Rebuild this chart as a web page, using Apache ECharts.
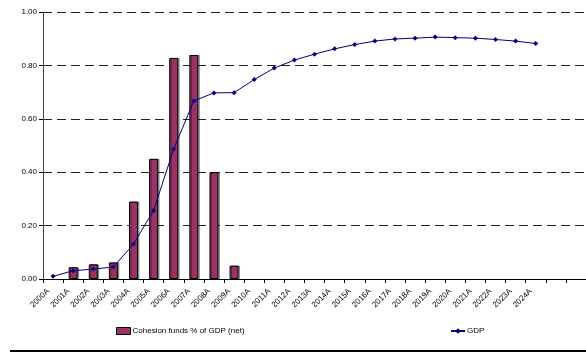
<!DOCTYPE html>
<html>
<head>
<meta charset="utf-8">
<script src="https://cdn.jsdelivr.net/npm/echarts@6/dist/echarts.min.js"></script>
<style>
  html, body { margin: 0; padding: 0; background: #fff; }
  #chart { width: 586px; height: 356px; }
</style>
</head>
<body>
<div id="chart"></div>
<script>
// Year categories (two trailing empty slots on the axis)
const years = ['2000A','2001A','2002A','2003A','2004A','2005A','2006A','2007A','2008A','2009A',
  '2010A','2011A','2012A','2013A','2014A','2015A','2016A','2017A','2018A','2019A',
  '2020A','2021A','2022A','2023A','2024A','',''];

// Cohesion funds as % of GDP (net)
const cohesionFunds = [null, 0.044, 0.055, 0.062, 0.29, 0.45, 0.828, 0.839, 0.40, 0.05];

// GDP index
const gdp = [0.010, 0.031, 0.037, 0.045, 0.131, 0.257, 0.487, 0.667, 0.697, 0.698,
  0.747, 0.790, 0.820, 0.842, 0.862, 0.878, 0.891, 0.899, 0.902, 0.906,
  0.904, 0.902, 0.897, 0.891, 0.882];

const FONT = 'Liberation Sans, Arial, sans-serif';

const chart = echarts.init(document.getElementById('chart'), null, { renderer: 'canvas' });
chart.setOption({
  animation: false,
  backgroundColor: '#ffffff',
  grid: { left: 43, right: 0, top: 12, bottom: 77, containLabel: false },
  legend: [
    {
      data: [{ name: 'Cohesion funds % of GDP (net)', icon: 'rect' }],
      left: 111, top: 322,
      itemWidth: 14, itemHeight: 7,
      itemStyle: { borderColor: '#000', borderWidth: 1 },
      textStyle: { fontFamily: FONT, fontSize: 8, color: '#000', padding: [0, 0, 0, -3] }
    },
    {
      data: ['GDP'],
      left: 445, top: 322,
      itemWidth: 14, itemHeight: 7,
      textStyle: { fontFamily: FONT, fontSize: 8, color: '#000', padding: [0, 0, 0, -3] }
    }
  ],
  xAxis: {
    type: 'category',
    data: years,
    boundaryGap: true,
    axisLine: { lineStyle: { color: '#000', width: 1 } },
    axisTick: { show: true, alignWithLabel: false, length: 4, lineStyle: { color: '#000' } },
    axisLabel: {
      rotate: 45, interval: 0, margin: 6, padding: [0, 7, 0, 0],
      fontFamily: FONT, fontSize: 8, color: '#000'
    },
    splitLine: { show: false }
  },
  yAxis: {
    type: 'value',
    min: 0, max: 1, interval: 0.2,
    axisLine: { show: true, lineStyle: { color: '#444', width: 1 } },
    axisTick: { show: true, length: 4, lineStyle: { color: '#000' } },
    axisLabel: {
      fontFamily: FONT, fontSize: 8, color: '#000', margin: 6,
      formatter: v => v.toFixed(2)
    },
    splitLine: { show: true, lineStyle: { color: '#222', type: [9, 5], width: 1 } }
  },
  series: [
    {
      name: 'Cohesion funds % of GDP (net)',
      type: 'bar',
      data: cohesionFunds,
      barWidth: 9,
      itemStyle: {
        color: '#993366', borderColor: '#000', borderWidth: 1,
        shadowColor: 'rgba(0,0,0,0.35)', shadowOffsetX: 1.5, shadowOffsetY: 0, shadowBlur: 0
      }
    },
    {
      name: 'GDP',
      type: 'line',
      data: gdp,
      symbol: 'diamond',
      symbolSize: 5,
      lineStyle: { color: '#000080', width: 1 },
      itemStyle: { color: '#000080' }
    }
  ],
  graphic: [
    {
      type: 'line',
      shape: { x1: 10, y1: 351, x2: 586, y2: 351 },
      style: { stroke: '#000', lineWidth: 2 }
    }
  ]
});
</script>
</body>
</html>
